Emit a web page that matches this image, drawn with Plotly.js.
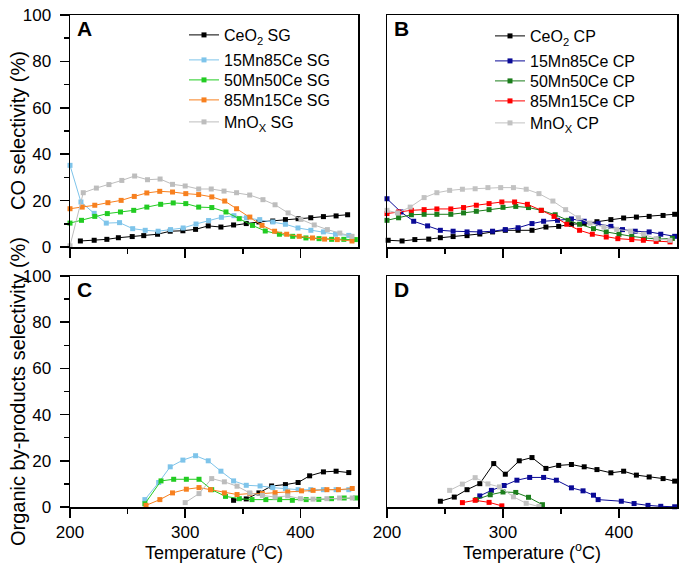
<!DOCTYPE html>
<html>
<head>
<meta charset="utf-8">
<script src="https://cdn.plot.ly/plotly-3.0.1.min.js"></script>
<style>html,body{margin:0;padding:0;background:#fff}#chart{width:685px;height:563px}</style>
</head>
<body>
<div id="chart"></div>
<script>
// ---- Panel A: CO selectivity, SG catalysts ----
const tA_Ce = [209,221,232,242,254,264,276,287,298,309,320,331,342,353,364,376,387,398,409,420,431,441];
const yA_Ce = [2.6,2.9,3.3,4.0,4.5,4.9,5.5,6.8,7.0,7.6,9.1,8.6,9.5,10.1,10.8,11.2,11.8,12.2,12.6,13.1,13.4,13.9];
const tA_15 = [200,209.5,221,231.5,243,254.4,265.3,276.5,287.3,298.2,309.4,320.3,331.4,342.3,353.2,364.7,376.1,387,397.9,409.1,420,430.5,442];
const yA_15 = [35.2,19.4,14.5,10.3,10.5,7.9,7.2,6.8,7.5,8.2,9.9,11.4,12.8,13.5,12.6,11.8,10.8,9.8,8.2,7.2,6.5,5.5,5.0];
const tA_50 = [200,210,221.5,232.4,243.8,255.3,266.7,278.7,289.6,300.5,311.7,323.1,335.4,346.9,358.4,369.5,381.8,393.3,404.8,416.2,427.1,437.7,447.7];
const yA_50 = [10.3,11.5,13.2,14.4,15.1,15.8,17.2,18.4,19.0,18.7,17.2,17.0,15.1,12.2,9.3,6.9,5.5,4.6,3.9,3.6,3.3,3.3,3.2];
const tA_85 = [200,210.6,221.5,232.9,244.4,255.8,266.7,277.9,289,300.5,311.7,323.1,334.3,344.6,356.1,366.7,377.6,388.1,399,410.5,421,432,444.8];
const yA_85 = [16.5,17.2,18.0,19.1,20.1,21.8,23.3,24.0,23.7,23.0,22.6,21.6,19.8,16.5,12.9,9.3,6.8,5.5,4.6,3.9,3.4,3.2,2.6];
const tA_Mn = [200,211.5,222.9,233.8,245,256.1,267.3,278.2,289,300,311.7,322.6,333.7,344.6,356,367.5,378,389.3,400.5,412,423.4,434.2,444.8];
const yA_Mn = [0.5,23.4,25.4,26.9,28.7,30.6,29.0,29.3,27.0,26.3,25.0,25.0,24.1,23.4,22.4,20.4,18.2,14.7,11.9,9.5,7.5,6.0,4.6];

// ---- Panel B: CO selectivity, CP catalysts ----
const tB_Ce = [201,213,224,236,246,257,269,280,291,302,313,325,337,348,359,370,381,393,404,415,426,438,448];
const yB_Ce = [2.9,2.6,3.2,3.4,4.0,4.5,4.9,5.6,6.5,7.2,7.2,7.2,8.6,8.9,9.8,10.1,10.9,11.8,12.5,12.9,13.2,13.6,14.1];
const tB_15 = [200,212,223,235,246,257,269,280,291,302,313,325,335,347,359,370,382,393,403,414,426,436,448];
const yB_15 = [20.8,15.1,11.1,9.1,7.2,6.8,6.5,6.5,6.8,7.5,8.3,10.1,11.1,11.5,12.1,11.1,10.1,8.9,7.5,6.8,6.5,5.5,4.6];
const tB_50 = [200,210,221,232,243,255,266,277,288,300,311,322,333,345,356,366,378,389,400,411,422,434,446];
const yB_50 = [11.5,12.6,13.9,14.1,14.1,14.1,14.7,15.4,16.1,17.1,17.5,17.0,15.8,13.9,11.5,9.8,7.9,6.5,5.5,4.6,3.9,3.4,3.7];
const tB_85 = [200,210,221,232,243,255,266,277,288,299,310,321,333,344,355,366,377,389,399,411,421,432,444];
const yB_85 = [14.4,15.1,15.8,16.1,16.4,16.4,17.0,18.0,18.7,19.4,19.4,18.4,15.8,13.2,9.8,7.2,5.5,4.3,3.6,3.2,2.9,2.4,2.2];
const tB_Mn = [200,209,220,232,243,254,265,276,287,298,309,320,331,343,354,365,375,387,398,410,421,432,444];
const yB_Mn = [15.8,14.7,17.2,21.3,23.4,24.4,24.9,25.1,25.6,25.6,25.6,24.9,23.0,19.8,16.1,12.6,10.3,8.6,7.6,6.8,5.5,3.6,2.9];

// ---- Panel C: organic by-products selectivity, SG catalysts ----
const tC_Ce = [342,353,364,375,387,398,408,420,431,442];
const yC_Ce = [2.9,3.5,6.1,9.1,9.7,10.6,13.5,15.2,15.5,14.9];
const tC_15 = [265,277,287,298,309,320,331,342,353,365,376,387,398,409,420,431,442];
const yC_15 = [3.2,10.6,17.4,20.3,22.2,20.0,15.5,11.3,9.4,9.1,8.4,8.0,7.5,7.5,7.5,7.5,7.5];
const tC_50 = [265,279,290,301,312,323,335,347,358,370,382,393,405,416,427,438,448];
const yC_50 = [1.4,11.3,12.0,12.0,12.0,7.5,4.6,3.6,3.2,3.2,3.2,2.9,3.2,3.3,3.6,3.9,3.9];
const tC_85 = [266,278,289,301,312,322,334,345,356,367,378,389,401,411,423,433,445];
const yC_85 = [0.7,3.2,6.1,7.7,8.4,7.5,6.1,5.4,5.8,5.8,6.2,6.5,7.0,7.2,7.5,7.5,8.0];
const tC_Mn = [300,312,323,334,345,356,367,378,389,400,411,423,434,445];
const yC_Mn = [1.9,5.8,12.3,10.9,9.0,6.1,5.0,4.3,4.8,3.6,3.4,3.6,3.9,3.9];

// ---- Panel D: organic by-products selectivity, CP catalysts ----
const tD_Ce = [246,258,269,280,292,302,314,325,337,348,359,370,381,393,404,415,426,438,448];
const yD_Ce = [2.5,4.3,7.5,10.1,18.8,14.2,20.0,21.4,16.7,18.0,18.4,17.4,16.2,14.8,15.5,13.8,13.0,12.3,11.2];
const tD_15 = [280,290,301,312,323,335,346,359,369,378,382,402,413,425,436,448];
const yD_15 = [4.8,7.2,9.3,11.6,12.8,12.8,11.6,8.3,7.0,5.1,3.2,2.5,1.5,0.7,0.3,0.1];
const tD_50 = [277,289,300,311,322,334];
const yD_50 = [3.2,5.3,6.5,6.3,4.2,1.0];
const tD_85 = [265,276,288,299];
const yD_85 = [1.9,2.9,2.0,0.5];
const tD_Mn = [254,265,276,287,297,309,320,331];
const yD_Mn = [7.2,9.9,12.7,10.0,8.7,4.4,1.6,0.2];

const namesSG = ['CeO<sub>2</sub> SG','15Mn85Ce SG','50Mn50Ce SG','85Mn15Ce SG','MnO<sub>X</sub> SG'];
const namesCP = ['CeO<sub>2</sub> CP','15Mn85Ce CP','50Mn50Ce CP','85Mn15Ce CP','MnO<sub>X</sub> CP'];
const colSG = ['#000000','#7ec4ea','#22cc22','#f7801f','#bdbdbd'];
const colCP = ['#000000','#0a0a96','#1b7d1b','#ff0000','#c2c2c2'];

function tr(x, y, name, color, xa, ya, legend, show) {
  const t = {
    type: 'scatter', mode: 'lines+markers', x: x, y: y, name: name,
    xaxis: xa, yaxis: ya, showlegend: show, cliponaxis: false,
    line: {color: color, width: 1},
    marker: {symbol: 'square', size: 5, color: color}
  };
  if (legend) t.legend = legend;
  return t;
}

const A = [[tA_Ce,yA_Ce],[tA_15,yA_15],[tA_50,yA_50],[tA_85,yA_85],[tA_Mn,yA_Mn]];
const B = [[tB_Ce,yB_Ce],[tB_15,yB_15],[tB_50,yB_50],[tB_85,yB_85],[tB_Mn,yB_Mn]];
const C = [[tC_Ce,yC_Ce],[tC_15,yC_15],[tC_50,yC_50],[tC_85,yC_85],[tC_Mn,yC_Mn]];
const D = [[tD_Ce,yD_Ce],[tD_15,yD_15],[tD_50,yD_50],[tD_85,yD_85],[tD_Mn,yD_Mn]];

const legId = i => (i === 0 ? 'legend' : 'legend' + (i + 1));

const data = [];
A.forEach((s,i) => data.push(tr(s[0], s[1], namesSG[i], colSG[i], 'x', 'y', legId(i), true)));
B.forEach((s,i) => data.push(tr(s[0], s[1], namesCP[i], colCP[i], 'x2', 'y2', legId(i + 5), true)));
C.forEach((s,i) => data.push(tr(s[0], s[1], namesSG[i], colSG[i], 'x3', 'y3', null, false)));
D.forEach((s,i) => data.push(tr(s[0], s[1], namesCP[i], colCP[i], 'x4', 'y4', null, false)));

const W = 685, H = 563;
const FONT = 'Liberation Sans, Arial, sans-serif';
const xdL = [70/W, 358/W], xdR = [387/W, 677/W];
const ydT = [1-247/H, 1-15/H], ydB = [1-507/H, 1-276/H];

function xax(dom, anchor, labels, title) {
  const a = {
    domain: dom, anchor: anchor, range: [200, 450], tickmode: 'array',
    tickvals: [200, 300, 400], ticks: 'outside', ticklen: 9, tickwidth: 1.5, tickcolor: '#000',
    showticklabels: labels, showline: true, linecolor: '#000', linewidth: 1.5, mirror: true,
    showgrid: false, zeroline: false, tickfont: {size: 17, color: '#000'},
    minor: {tickvals: [250, 350], ticks: 'outside', ticklen: 5, tickwidth: 1.5, tickcolor: '#000', showgrid: false}
  };
  if (title) a.title = {text: 'Temperature (<sup>o</sup>C)', font: {size: 18, color: '#000'}, standoff: 2};
  return a;
}
function yax(dom, anchor, labels) {
  const a = {
    domain: dom, anchor: anchor, range: [0, 100], showline: true, linecolor: '#000', linewidth: 1.5,
    mirror: true, showgrid: false, zeroline: false, showticklabels: labels,
    tickfont: {size: 17, color: '#000'}, ticklabelstandoff: 5
  };
  if (labels) {
    a.tickmode = 'array'; a.tickvals = [0, 20, 40, 60, 80, 100];
    a.ticks = 'outside'; a.ticklen = 9; a.tickwidth = 1.5; a.tickcolor = '#000';
    a.minor = {tickvals: [10, 30, 50, 70, 90], ticks: 'outside', ticklen: 5, tickwidth: 1.5, tickcolor: '#000', showgrid: false};
  } else {
    a.ticks = '';
  }
  return a;
}

function letter(t, xr, yr) {
  return {text: '<b>' + t + '</b>', xref: xr + ' domain', yref: yr + ' domain', x: 0.018, y: 0.94,
          xanchor: 'left', yanchor: 'middle', showarrow: false, font: {size: 21, color: '#000', family: FONT}};
}
function ytitle(t, yc) {
  return {text: t, xref: 'paper', yref: 'paper', x: 18/W, y: 1 - yc/H, xanchor: 'center', yanchor: 'middle',
          textangle: -90, showarrow: false, font: {size: 20, color: '#000', family: FONT}};
}

const layout = {
  width: W, height: H, margin: {l: 0, r: 0, t: 0, b: 0},
  paper_bgcolor: '#fff', plot_bgcolor: '#fff',
  font: {family: FONT, color: '#000', size: 17},
  xaxis: xax(xdL, 'y', false, false),
  yaxis: yax(ydT, 'x', true),
  xaxis2: xax(xdR, 'y2', false, false),
  yaxis2: yax(ydT, 'x2', false),
  xaxis3: xax(xdL, 'y3', true, true),
  yaxis3: yax(ydB, 'x3', true),
  xaxis4: xax(xdR, 'y4', true, true),
  yaxis4: yax(ydB, 'x4', false),
  annotations: [letter('A','x','y'), letter('B','x2','y2'), letter('C','x3','y3'), letter('D','x4','y4'),
                ytitle('CO selectivity (%)', 131), ytitle('Organic by-products selectivity (%)', 392)]
};

// one single-entry legend per trace, stacked like the reference
const legY = [33, 60, 80, 100, 120];
const legSubShift = [2, 0, 0, 0, 2];
for (let i = 0; i < 10; i++) {
  const k = i % 5;
  layout[legId(i)] = {
    x: (i < 5 ? 184 : 490) / W, xanchor: 'left',
    y: 1 - (legY[k] + (i < 5 ? 0 : 1) + legSubShift[k]) / H, yanchor: 'middle',
    bgcolor: 'rgba(0,0,0,0)', borderwidth: 0, font: {size: 16, color: '#000'}, itemwidth: 30
  };
}

Plotly.newPlot('chart', data, layout, {displayModeBar: false, staticPlot: true});
</script>
</body>
</html>
